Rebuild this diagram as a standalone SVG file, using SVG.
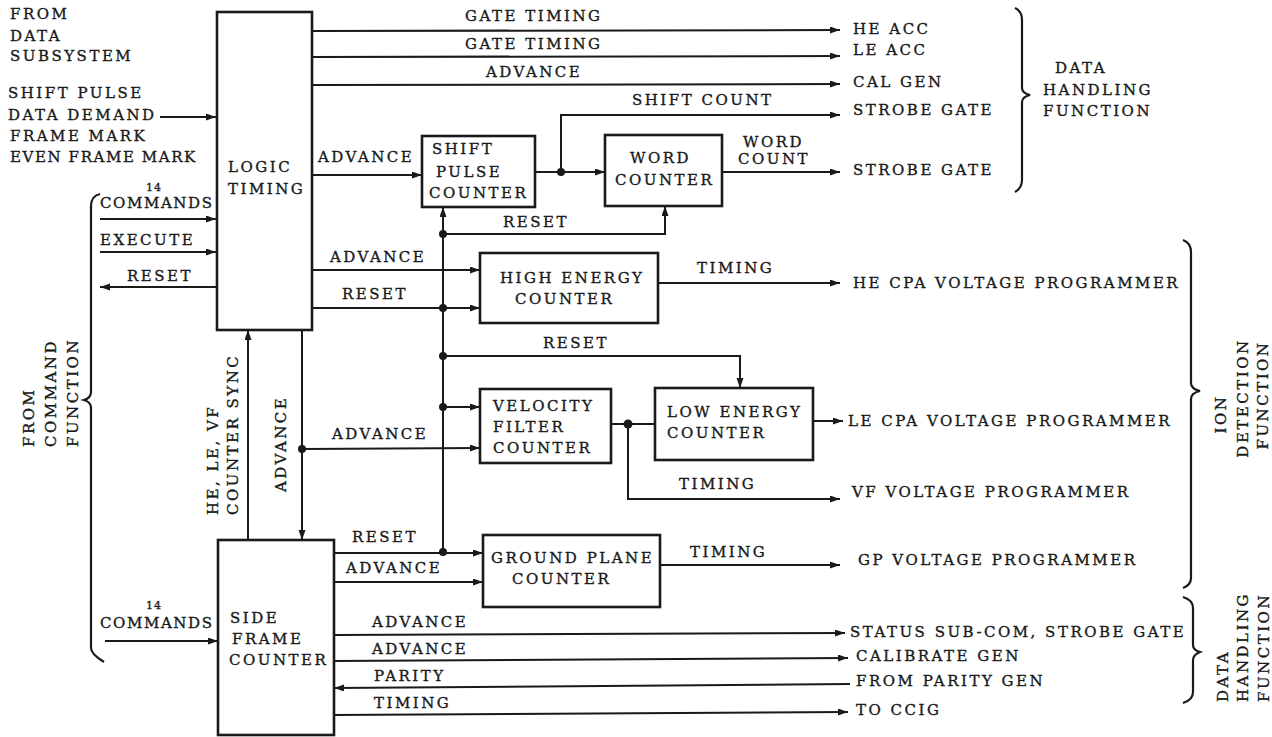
<svg xmlns="http://www.w3.org/2000/svg" width="1272" height="737" viewBox="0 0 1272 737">
<style>
text{font-family:"DejaVu Serif","Liberation Serif",serif;font-size:15px;letter-spacing:2.5px;fill:#1a1a1a;stroke:#1a1a1a;stroke-width:0.35}
.s{font-size:11px;letter-spacing:1px}
.c{letter-spacing:1.6px}
.box rect{fill:#fff;stroke:#1a1a1a;stroke-width:2.6}
.cn path{fill:none;stroke:#1a1a1a;stroke-width:2;marker-end:url(#ah)}
.cn path.n{marker-end:none}
.cn circle{fill:#1a1a1a}
.br{fill:none;stroke:#1a1a1a;stroke-width:2.2}
</style>
<defs>
<marker id="ah" markerUnits="userSpaceOnUse" markerWidth="11" markerHeight="8" refX="10" refY="3.5" orient="auto">
<path d="M0,0 L10,3.5 L0,7 z" fill="#1a1a1a"/>
</marker>
</defs>
<rect width="1272" height="737" fill="#fff"/>

<g id="connectors" class="cn">
<path d="M312,31 L840,30"/>
<path d="M312,57 L840,56"/>
<path d="M312,85 L840,84"/>
<path d="M561,172 L561,115 L840,115"/>
<path d="M535,172 L605,172"/>
<path d="M722,172 L840,172"/>
<path d="M312,175 L422,175"/>
<path d="M443,552 L443,207"/>
<path d="M443,234 L665,234 L665,206"/>
<path d="M312,270 L480,270"/>
<path d="M312,308 L480,308"/>
<path d="M658,283 L840,283"/>
<path d="M443,356 L740,356 L740,388"/>
<path d="M443,407 L480,407"/>
<path d="M302,449 L480,448"/>
<path class="n" d="M611,424 L655,424"/>
<path d="M628,424 L628,499 L840,499"/>
<path d="M813,421 L843,421"/>
<path d="M334,553 L483,553"/>
<path d="M334,582 L483,582"/>
<path d="M660,565 L840,565"/>
<path d="M334,635 L845,633"/>
<path d="M334,661 L848,658"/>
<path d="M850,684 L334,688"/>
<path d="M334,715 L848,712"/>
<path d="M248,540 L248,330"/>
<path d="M302,330 L302,540"/>
<path d="M160,117 L216,117"/>
<path d="M100,219 L216,219"/>
<path d="M100,252 L216,252"/>
<path d="M216,287 L100,287"/>
<path d="M105,641 L218,641"/>
<circle cx="561" cy="172" r="4"/>
<circle cx="443" cy="234" r="4"/>
<circle cx="443" cy="308" r="4"/>
<circle cx="443" cy="356" r="4"/>
<circle cx="443" cy="407" r="4"/>
<circle cx="302" cy="449" r="4"/>
<circle cx="628" cy="424" r="4.5"/>
<circle cx="443" cy="552" r="4"/>
</g>

<g id="logic-timing" class="box">
<rect x="217" y="12" width="95" height="318"/>
<text x="228" y="172">LOGIC</text>
<text x="228" y="194">TIMING</text>
</g>
<g id="shift-pulse-counter" class="box">
<rect x="422" y="136" width="113" height="71"/>
<text x="432" y="154">SHIFT</text>
<text x="436" y="177">PULSE</text>
<text x="429" y="198">COUNTER</text>
</g>
<g id="word-counter" class="box">
<rect x="605" y="135" width="117" height="71"/>
<text x="630" y="163">WORD</text>
<text x="615" y="185">COUNTER</text>
</g>
<g id="high-energy-counter" class="box">
<rect x="480" y="253" width="178" height="70"/>
<text x="500" y="283">HIGH ENERGY</text>
<text x="515" y="304">COUNTER</text>
</g>
<g id="velocity-filter-counter" class="box">
<rect x="480" y="389" width="131" height="74"/>
<text x="493" y="411">VELOCITY</text>
<text x="493" y="432">FILTER</text>
<text x="493" y="453">COUNTER</text>
</g>
<g id="low-energy-counter" class="box">
<rect x="655" y="388" width="158" height="72"/>
<text x="667" y="417">LOW ENERGY</text>
<text x="667" y="438">COUNTER</text>
</g>
<g id="ground-plane-counter" class="box">
<rect x="483" y="535" width="177" height="72"/>
<text x="491" y="563">GROUND PLANE</text>
<text x="512" y="584">COUNTER</text>
</g>
<g id="side-frame-counter" class="box">
<rect x="218" y="540" width="116" height="195"/>
<text x="230" y="623">SIDE</text>
<text x="232" y="644">FRAME</text>
<text x="229" y="665">COUNTER</text>
</g>

<g id="connector-labels">
<text x="465" y="21">GATE TIMING</text>
<text x="465" y="49">GATE TIMING</text>
<text x="486" y="77">ADVANCE</text>
<text x="632" y="105">SHIFT COUNT</text>
<text x="743" y="147">WORD</text>
<text x="738" y="164">COUNT</text>
<text x="318" y="162">ADVANCE</text>
<text x="503" y="227">RESET</text>
<text x="330" y="262">ADVANCE</text>
<text x="342" y="299">RESET</text>
<text x="697" y="273">TIMING</text>
<text x="543" y="348">RESET</text>
<text x="332" y="439">ADVANCE</text>
<text x="679" y="489">TIMING</text>
<text x="690" y="557">TIMING</text>
<text x="352" y="542">RESET</text>
<text x="346" y="573">ADVANCE</text>
<text x="372" y="627">ADVANCE</text>
<text x="372" y="654">ADVANCE</text>
<text x="374" y="681">PARITY</text>
<text x="374" y="708">TIMING</text>
<text transform="rotate(-90 218 515)" x="218" y="515">HE, LE, VF</text>
<text transform="rotate(-90 238 515)" x="238" y="515">COUNTER SYNC</text>
<text transform="rotate(-90 286 492)" x="286" y="492">ADVANCE</text>
</g>

<g id="left-labels">
<text x="10" y="19">FROM</text>
<text x="10" y="41">DATA</text>
<text x="10" y="61">SUBSYSTEM</text>
<text x="8" y="98">SHIFT PULSE</text>
<text x="8" y="120">DATA DEMAND</text>
<text x="10" y="141">FRAME MARK</text>
<text class="c" x="10" y="162">EVEN FRAME MARK</text>
<text class="s" x="146" y="191">14</text>
<text class="c" x="100" y="208">COMMANDS</text>
<text x="100" y="245">EXECUTE</text>
<text x="127" y="281">RESET</text>
<text class="s" x="146" y="609">14</text>
<text class="c" x="100" y="628">COMMANDS</text>
<text transform="rotate(-90 34 447)" x="34" y="447">FROM</text>
<text transform="rotate(-90 56 447)" x="56" y="447">COMMAND</text>
<text transform="rotate(-90 78 447)" x="78" y="447">FUNCTION</text>
<path class="br" d="M100,194 Q91,196 91,206 L91,392 Q91,398 84,400 Q91,402 91,408 L91,648 Q91,654 104,662"/>
</g>

<g id="right-labels">
<text x="853" y="34">HE ACC</text>
<text x="853" y="55">LE ACC</text>
<text x="853" y="87">CAL GEN</text>
<text x="853" y="115">STROBE GATE</text>
<text x="853" y="175">STROBE GATE</text>
<text x="853" y="288">HE CPA VOLTAGE PROGRAMMER</text>
<text x="848" y="426">LE CPA VOLTAGE PROGRAMMER</text>
<text x="852" y="497">VF VOLTAGE PROGRAMMER</text>
<text x="858" y="565">GP VOLTAGE PROGRAMMER</text>
<text x="850" y="637">STATUS SUB-COM, STROBE GATE</text>
<text x="856" y="661">CALIBRATE GEN</text>
<text x="856" y="686">FROM PARITY GEN</text>
<text x="856" y="715">TO CCIG</text>
<text x="1055" y="73">DATA</text>
<text x="1043" y="95">HANDLING</text>
<text x="1043" y="116">FUNCTION</text>
<text transform="rotate(-90 1226 414)" x="1226" y="414" text-anchor="middle">ION</text>
<text transform="rotate(-90 1248 398)" x="1248" y="398" text-anchor="middle">DETECTION</text>
<text transform="rotate(-90 1268 395)" x="1268" y="395" text-anchor="middle">FUNCTION</text>
<text transform="rotate(-90 1228 702)" x="1228" y="702">DATA</text>
<text transform="rotate(-90 1248 702)" x="1248" y="702">HANDLING</text>
<text transform="rotate(-90 1269 702)" x="1269" y="702">FUNCTION</text>
<path class="br" d="M1015,8 Q1022,11 1022,20 L1022,88 Q1022,93 1030,95 Q1022,97 1022,102 L1022,180 Q1022,188 1015,192"/>
<path class="br" d="M1183,240 Q1191,243 1191,252 L1191,383 Q1191,389 1200,391 Q1191,393 1191,399 L1191,578 Q1191,585 1183,588"/>
<path class="br" d="M1183,597 Q1193,600 1193,608 L1193,645 Q1193,650 1200,652 Q1193,655 1193,660 L1193,692 Q1193,700 1183,703"/>
</g>
</svg>
